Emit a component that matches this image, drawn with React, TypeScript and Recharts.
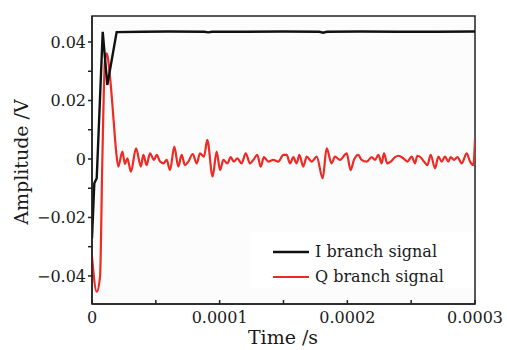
import React from "react";
import {
  LineChart,
  Line,
  XAxis,
  YAxis,
  CartesianGrid,
} from "recharts";

// time in microseconds, amplitude in volts
const iTime = [0, 1.8, 3.7, 8.4, 12.0, 19.3, 40, 60, 88, 91, 94, 120, 150, 178, 181, 184, 210, 240, 270, 300];
const iValue = [
  -0.0271, -0.0083, -0.0066, 0.0435, 0.0253, 0.0434, 0.0435, 0.0436, 0.0435, 0.0433,
  0.0435, 0.0435, 0.0436, 0.0435, 0.0432, 0.0435, 0.0436, 0.0435, 0.0435, 0.0436,
];

const qTime = [
  0, 3.7, 6.3, 8.1, 10.2, 11.5, 14.1, 16.7, 18.8, 20.6, 23.8, 25.8, 27.7, 30.5, 34.5, 38.3,
  40.2, 42.8, 45.4, 48.6, 50.7, 53.3, 55.9, 58.5, 61.1, 64.5, 67.6, 70.2, 72.8, 75.5, 78.9,
  82.0, 84.6, 87.7, 90.3, 94.5, 97.6, 100.3, 102.9, 106.0, 108.6, 111.2, 113.8, 117.2, 120.4,
  123.8, 126.4, 129.5, 132.1, 134.7, 138.1, 142.0, 145.9, 149.9, 152.5, 155.1, 157.7, 160.3,
  162.4, 165.5, 168.2, 172.1, 176.0, 180.7, 183.8, 187.7, 190.3, 194.3, 199.5, 202.6, 205.2,
  208.6, 211.2, 215.2, 219.1, 221.7, 224.3, 226.9, 228.7, 231.3, 234.0, 237.3, 239.9, 243.9,
  247.0, 250.4, 253.0, 254.8, 257.4, 260.1, 262.7, 265.3, 268.7, 271.3, 273.9, 276.5, 279.1,
  280.9, 283.6, 286.2, 289.6, 293.5, 296.1, 298.7, 300,
];
const qValue = [
  -0.0334, -0.0454, -0.0402, -0.0003, 0.0339, 0.0361, 0.0282, 0.0145, 0.0031, -0.0026, 0.0025,
  -0.0017, 0.0002, -0.0043, 0.0036, -0.0026,
  0.0014, -0.0021, 0.0019, -0.0003, 0.0014, -0.0009, -0.0015, -0.0003, -0.0038, 0.0042, -0.0026,
  0.0014, -0.0021, -0.0009, 0.0017,
  -0.0015, 0.0019, 0.0008, 0.0065, -0.006, 0.0025, -0.0038, -0.0003, -0.0015, 0.0006, -0.0009,
  0.0002, -0.0015, 0.0019,
  -0.0015, -0.0003, 0.0014, -0.0026, 0.0006, -0.0009, -0.0003, -0.0009, 0.0014, 0.0014, -0.0015,
  0.0006, -0.0015,
  0.0014, -0.0026, 0.0008, -0.0009, 0.0008, -0.0066, 0.0036, -0.0015, 0.0008, -0.0003, 0.0019,
  -0.0038, -0.0003,
  0.0014, -0.0003, -0.0009, 0.0006, -0.0003, 0.0014, -0.0015, 0.0019, -0.0015, -0.0009, 0.0006,
  0.0011, 0.0002,
  -0.0009, 0.0008, -0.0015, 0.0011, 0.0006, -0.0009, -0.0021, 0.0014, -0.0032, 0.0008, -0.0009,
  0.0008, -0.0009,
  0.0006, -0.0003, 0.0006, -0.0015, 0.0019, -0.0009, -0.0021, 0.0068,
];

const xTicks = [0, 50, 100, 150, 200, 250, 300];
const xTickLabels: Record<number, string> = { 0: "0", 100: "0.0001", 200: "0.0002", 300: "0.0003" };
const yTicks = [-0.04, -0.03, -0.02, -0.01, 0, 0.01, 0.02, 0.03, 0.04];
const yTickLabels: Record<string, string> = {
  "-0.04": "\u22120.04",
  "-0.02": "\u22120.02",
  "0": "0",
  "0.02": "0.02",
  "0.04": "0.04",
};

const iData = iTime.map((t, k) => ({ t, v: iValue[k] }));
const qData = qTime.map((t, k) => ({ t, v: qValue[k] }));

const FONT = "'DejaVu Serif', serif";

export default function App() {
  return (
    <div style={{ position: "absolute", left: 0, top: 0, width: 507, height: 350, background: "#fff" }}>
      <LineChart width={507} height={350} margin={{ top: 16, right: 32, bottom: 0, left: 0 }}>
        <CartesianGrid horizontal={false} vertical={false} fill="#fcfcfc" />
        <XAxis
          dataKey="t"
          type="number"
          domain={[0, 300]}
          ticks={xTicks}
          allowDataOverflow
          height={46}
          tickSize={-4}
          tickMargin={12}
          stroke="#222"
          strokeWidth={1.5}
          tick={{ fill: "#1a1a1a", fontSize: 16, fontFamily: FONT }}
          tickFormatter={(v: number) => xTickLabels[v] ?? ""}
        />
        <YAxis
          type="number"
          domain={[-0.0496, 0.0489]}
          ticks={yTicks}
          allowDataOverflow
          width={92}
          tickSize={4}
          tickMargin={2}
          stroke="#222"
          strokeWidth={1.5}
          tick={{ fill: "#1a1a1a", fontSize: 16, fontFamily: FONT }}
          tickFormatter={(v: number) => yTickLabels[String(v)] ?? ""}
        />
        <Line data={qData} dataKey="v" type="monotone" stroke="#ee2a24" strokeWidth={2.2} dot={false} isAnimationActive={false} />
        <Line data={iData} dataKey="v" type="linear" stroke="#111" strokeWidth={2.4} dot={false} isAnimationActive={false} />
        <rect x={92} y={16} width={383} height={288} fill="none" stroke="#222" strokeWidth={1.5} />
        <text x={283} y={344} textAnchor="middle" fontFamily={FONT} fontSize={19} fill="#1a1a1a">Time /s</text>
        <text x={0} y={0} transform="translate(28,162) rotate(-90)" textAnchor="middle" fontFamily={FONT} fontSize={19} fill="#1a1a1a">Amplitude /V</text>
        <g>
          <rect x={250} y={232} width={224} height={56} fill="#fff" />
          <line x1={273} y1={252} x2={309} y2={252} stroke="#111" strokeWidth={2.4} />
          <text x={315} y={257} fontFamily={FONT} fontSize={16} fill="#1a1a1a">I branch signal</text>
          <line x1={273} y1={277} x2={309} y2={277} stroke="#ee2a24" strokeWidth={2.2} />
          <text x={315} y={282} fontFamily={FONT} fontSize={16} fill="#1a1a1a">Q branch signal</text>
        </g>
      </LineChart>
    </div>
  );
}
